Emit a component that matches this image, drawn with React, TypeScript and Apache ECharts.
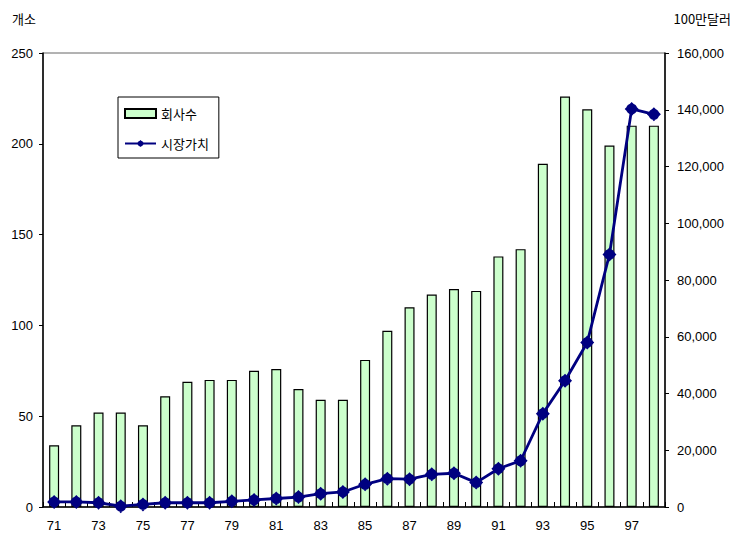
import React, { useEffect, useRef } from "react";
import * as echarts from "echarts";

const years = ["71","72","73","74","75","76","77","78","79","80","81","82","83","84","85","86","87","88","89","90","91","92","93","94","95","96","97","98"];
const companies = [34,45,52,52,45,61,69,70,70,75,76,65,59,59,81,97,110,117,120,119,138,142,189,226,219,199,210,210];
const marketValue = [1800,1800,1500,300,900,1500,1500,1500,2000,2500,3000,3500,4700,5300,8000,10000,9800,11500,11900,8600,13500,16300,32900,44500,58000,89000,140300,138400];
const leftTicks = { min: 0, max: 250, interval: 50 };
const rightTicks = { min: 0, max: 160000, interval: 20000 };
const seriesNames = ["회사수", "시장가치"];
const leftUnit = "개소";
const rightUnit = "100만달러";

const numFont = "'Liberation Sans', Arial, sans-serif";
const krFont = "'Noto Sans CJK KR', 'Liberation Sans', sans-serif";
const markerPath = "path://M7,0L14,7L7,14L0,7Z M12.5,7A5.5,5.5 0 1 1 1.5,7A5.5,5.5 0 1 1 12.5,7Z";

export default function App() {
  const ref = useRef<HTMLDivElement>(null);
  useEffect(() => {
    const chart = echarts.init(ref.current!, null, { renderer: "svg" });
    chart.setOption({
      animation: false,
      backgroundColor: "#fff",
      grid: { left: 43, right: 70, top: 53, bottom: 32, show: true, borderColor: "#666", borderWidth: 1, backgroundColor: "transparent" },
      legend: {
        orient: "vertical",
        left: 118,
        top: 97,
        borderColor: "#000",
        borderWidth: 1,
        backgroundColor: "#fff",
        padding: [10, 10, 8, 6],
        itemWidth: 31,
        itemHeight: 9,
        itemGap: 17,
        textStyle: { fontFamily: krFont, fontSize: 13, color: "#000" },
        data: [
          { name: seriesNames[0], icon: "rect" },
          { name: seriesNames[1] },
        ],
      },
      graphic: [
        { type: "text", left: 12, top: 12, style: { text: leftUnit, fontFamily: krFont, fontSize: 13, fill: "#000" } },
        { type: "text", right: 4, top: 12, style: { text: rightUnit, fontFamily: krFont, fontSize: 13, fill: "#000" } },
      ],
      xAxis: {
        type: "category",
        data: years,
        boundaryGap: true,
        axisLine: { lineStyle: { color: "#000", width: 1.5 } },
        axisTick: { show: true, inside: true, length: 5, interval: 0, lineStyle: { color: "#000" } },
        axisLabel: { interval: 1, margin: 12, fontFamily: numFont, fontSize: 13, color: "#000" },
      },
      yAxis: [
        {
          type: "value",
          min: leftTicks.min,
          max: leftTicks.max,
          interval: leftTicks.interval,
          position: "left",
          axisLine: { show: true, lineStyle: { color: "#000", width: 1.5 } },
          axisTick: { show: true, length: 4, lineStyle: { color: "#000" } },
          axisLabel: { margin: 10, fontFamily: numFont, fontSize: 13, color: "#000" },
          splitLine: { show: false },
        },
        {
          type: "value",
          min: rightTicks.min,
          max: rightTicks.max,
          interval: rightTicks.interval,
          position: "right",
          axisLine: { show: true, lineStyle: { color: "#000", width: 1.5 } },
          axisTick: { show: true, length: 4, lineStyle: { color: "#000" } },
          axisLabel: {
            margin: 12,
            fontFamily: numFont,
            fontSize: 13,
            color: "#000",
            formatter: (v: number) => v.toLocaleString("en-US"),
          },
          splitLine: { show: false },
        },
      ],
      series: [
        {
          name: seriesNames[0],
          type: "bar",
          yAxisIndex: 0,
          data: companies,
          barWidth: 10,
          itemStyle: { color: "#ccffcc", borderColor: "#000", borderWidth: 1.2 },
        },
        {
          name: seriesNames[1],
          type: "line",
          yAxisIndex: 1,
          data: marketValue,
          symbol: markerPath,
          symbolSize: 14,
          lineStyle: { color: "#000080", width: 2.8 },
          itemStyle: { color: "#000080" },
        },
      ],
    });
    return () => chart.dispose();
  }, []);
  return <div ref={ref} style={{ width: 735, height: 539, position: "absolute", left: 0, top: 0 }} />;
}
